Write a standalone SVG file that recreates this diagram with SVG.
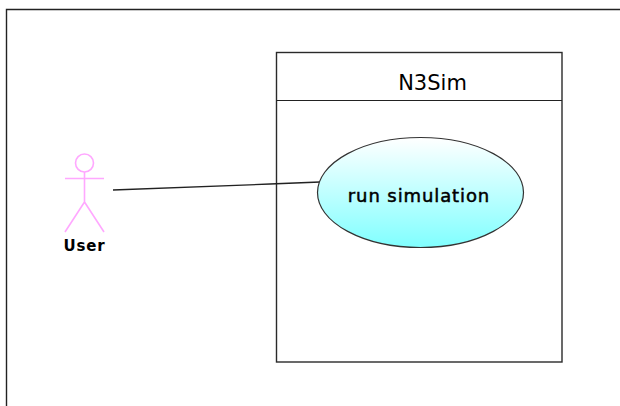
<svg xmlns="http://www.w3.org/2000/svg" width="620" height="406" viewBox="0 0 620 406">
<style>
.actor{fill:none;stroke:#ffa8ff;stroke-width:1.600}
.box{fill:#fff;stroke:#2a2a2a;stroke-width:1.400}
.t{font-family:"DejaVu Sans",sans-serif;fill:#000}
</style>
<defs><linearGradient id="g" x1="0" y1="0" x2="0" y2="1"><stop offset="0" stop-color="#fff"/><stop offset="1" stop-color="#80ffff"/></linearGradient></defs>
<rect width="620" height="406" fill="#fff"/>
<path d="M6.500 406V9.500H620" fill="none" stroke="#222" stroke-width="1.400"/>
<g id="system">
<rect class="box" x="276.500" y="52.500" width="285.500" height="309.500"/>
<path d="M276.500 100.500H562" fill="none" stroke="#222" stroke-width="1"/>
<text class="t" x="432.500" y="90" font-size="21" text-anchor="middle">N3Sim</text>
</g>
<g id="connectors"><path d="M113 190L270 184L320 182" fill="none" stroke="#222" stroke-width="1.300"/></g>
<g id="usecase">
<ellipse cx="420.500" cy="192.500" rx="103" ry="55" fill="url(#g)" stroke="#333" stroke-width="1.200"/>
<text class="t" x="419" y="202" font-size="18" letter-spacing="0.900" text-anchor="middle" stroke="#000" stroke-width="0.500">run simulation</text>
</g>
<g id="user">
<circle class="actor" cx="84.500" cy="163" r="9"/>
<path class="actor" d="M84.500 172V202M65 178.500H104M84.500 202L65 232M84.500 202L104 232"/>
<text class="t" x="84.500" y="251" font-size="15" font-weight="700" letter-spacing="0.800" text-anchor="middle">User</text>
</g>
</svg>
